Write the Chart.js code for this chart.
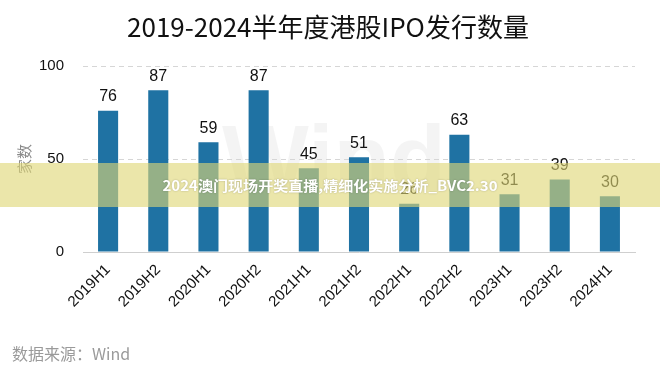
<!DOCTYPE html>
<html>
<head>
<meta charset="utf-8">
<script src="https://cdn.jsdelivr.net/npm/chart.js@4"></script>
<style>
  html, body { margin: 0; padding: 0; background: #fff; }
  #wrap { width: 660px; height: 371px; }
</style>
</head>
<body>
<div id="wrap"><canvas id="ipoChart" width="660" height="371"></canvas></div>
<script>
// datos del gráfico
const periods = ["2019H1", "2019H2", "2020H1", "2020H2", "2021H1", "2021H2", "2022H1", "2022H2", "2023H1", "2023H2", "2024H1"];
const ipoCounts = [76, 87, 59, 87, 45, 51, 26, 63, 31, 39, 30];
const yTicks = [0, 50, 100];

const titleText = "2019-2024半年度港股IPO发行数量";
const yTitle = "家数";
const sourceText = "数据来源：Wind";
const bannerText = "2024澳门现场开奖直播,精细化实施分析_BVC2.30";

const CJK = '"Noto Sans CJK SC", sans-serif';
const LAT = '"Liberation Sans", Arial, sans-serif';

// fondo, título, marca de agua "Wind"
const backdrop = {
    id: 'backdrop',
    beforeDraw(chart) {
        const ctx = chart.ctx;
        ctx.save();
        ctx.fillStyle = '#fff';
        ctx.fillRect(0, 0, chart.width, chart.height);

        // title, squeezed a bit to the reference width
        ctx.font = '26px ' + CJK;
        ctx.fillStyle = '#111';
        ctx.textBaseline = 'middle';
        ctx.textAlign = 'center';
        const w = ctx.measureText(titleText).width;
        const sx = Math.min(1, 405 / w);
        ctx.translate(328, 27);
        ctx.scale(sx, 1);
        ctx.fillText(titleText, 0, 0);
        ctx.restore();

        ctx.save();
        ctx.font = 'bold 92px ' + LAT;
        ctx.fillStyle = 'rgba(0,0,0,0.045)';
        ctx.textBaseline = 'alphabetic';
        ctx.fillText('Wind', 222, 190);
        ctx.restore();
    }
};

// etiquetas de valores, fuente y franja amarilla
const overlay = {
    id: 'overlay',
    afterDatasetsDraw(chart) {
        const ctx = chart.ctx;
        const meta = chart.getDatasetMeta(0);
        ctx.save();
        ctx.font = '16px ' + LAT;
        ctx.fillStyle = '#111';
        ctx.textAlign = 'center';
        ctx.textBaseline = 'bottom';
        meta.data.forEach((bar, i) => {
            ctx.fillText(String(ipoCounts[i]), bar.x, bar.y - 6);
        });
        ctx.restore();
    },
    afterDraw(chart) {
        const ctx = chart.ctx;
        ctx.save();
        ctx.font = '16px ' + CJK;
        ctx.fillStyle = '#9a9a9a';
        ctx.textAlign = 'left';
        ctx.textBaseline = 'middle';
        ctx.fillText(sourceText, 12, 354);

        ctx.fillStyle = 'rgba(222,214,118,0.62)';
        ctx.fillRect(0, 163, chart.width, 44);

        ctx.font = 'bold 14px ' + CJK;
        ctx.textAlign = 'center';
        const w = ctx.measureText(bannerText).width;
        const sx = 335 / w;
        ctx.translate(330, 186);
        ctx.scale(sx, 1);
        ctx.shadowColor = 'rgba(0,0,0,0.25)';
        ctx.shadowBlur = 2;
        ctx.fillStyle = '#fff';
        ctx.fillText(bannerText, 0, 0);
        ctx.restore();
    }
};

new Chart(document.getElementById('ipoChart').getContext('2d'), {
    type: 'bar',
    data: {
        labels: periods,
        datasets: [{
            label: yTitle,
            data: ipoCounts,
            backgroundColor: '#1f72a3',
            barPercentage: 0.4,
            categoryPercentage: 1.0
        }]
    },
    options: {
        responsive: false,
        animation: false,
        layout: { padding: { top: 66, right: 25, left: 0, bottom: 0 } },
        plugins: {
            legend: { display: false },
            tooltip: { enabled: false }
        },
        scales: {
            x: {
                grid: { display: false, drawTicks: false },
                border: { display: true, color: '#cfcfcf', width: 1 },
                ticks: {
                    color: '#111',
                    font: { family: LAT, size: 15 },
                    maxRotation: 45,
                    minRotation: 45,
                    padding: 9
                },
                afterFit(scale) { scale.height = 119; }
            },
            y: {
                min: 0,
                max: 100,
                afterBuildTicks(scale) { scale.ticks = yTicks.map(v => ({ value: v })); },
                grid: {
                    drawTicks: false,
                    color: ctx => ctx.tick && ctx.tick.value === 0 ? 'rgba(0,0,0,0)' : '#d6d6d6',
                    lineWidth: 1
                },
                border: { display: false, dash: [5, 4] },
                ticks: {
                    color: '#111',
                    font: { family: LAT, size: 15 },
                    padding: 19
                },
                title: {
                    display: true,
                    text: yTitle,
                    color: '#8a8a8a',
                    font: { family: CJK, size: 15 },
                    padding: { top: 15, bottom: 0 }
                },
                afterFit(scale) { scale.width = 83; }
            }
        }
    },
    plugins: [backdrop, overlay]
});
</script>
</body>
</html>
